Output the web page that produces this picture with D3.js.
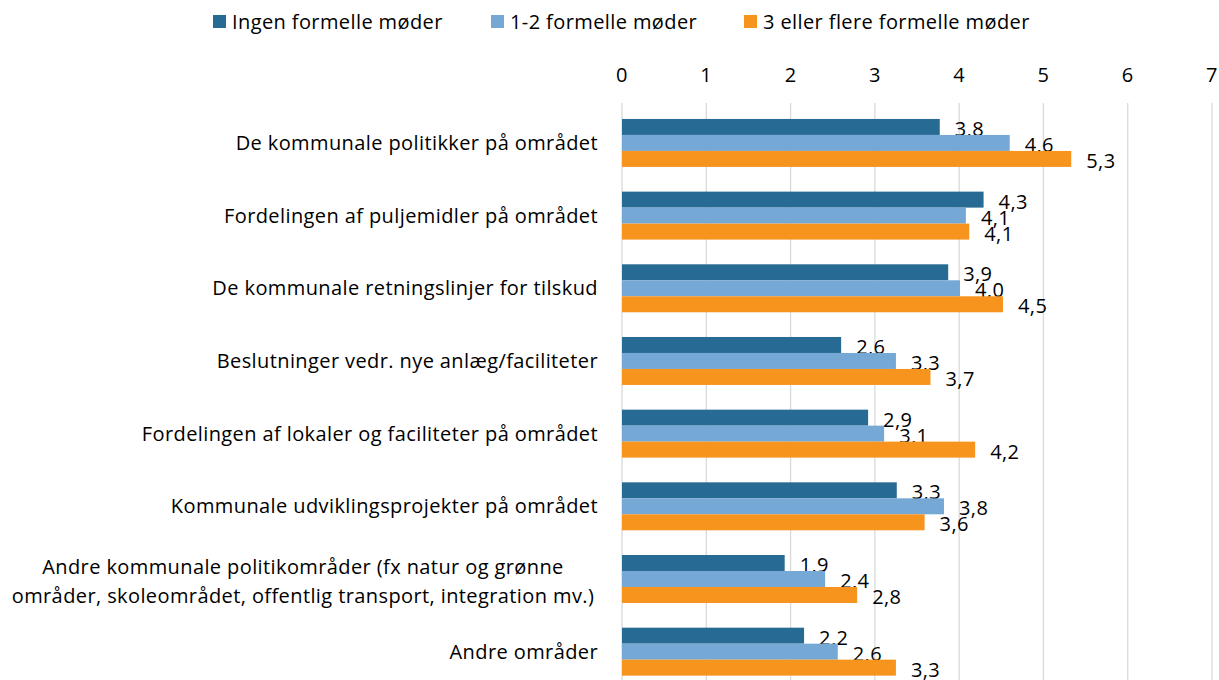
<!DOCTYPE html>
<html>
<head>
<meta charset="utf-8">
<script src="https://cdn.jsdelivr.net/npm/d3@7"></script>
<style>
  body { margin: 0; background: #fff; }
  svg { display: block; font-family: "Open Sans", sans-serif; letter-spacing: 0.4px; }
</style>
</head>
<body>
<div id="chart"></div>
<script>
// 카테고리 (두 줄 라벨은 \n 으로 나눔)
const categories = [
  "De kommunale politikker på området",
  "Fordelingen af puljemidler på området",
  "De kommunale retningslinjer for tilskud",
  "Beslutninger vedr. nye anlæg/faciliteter",
  "Fordelingen af lokaler og faciliteter på området",
  "Kommunale udviklingsprojekter på området",
  "Andre kommunale politikområder (fx natur og grønne\nområder, skoleområdet, offentlig transport, integration mv.)",
  "Andre områder"
];
const seriesNames = ["Ingen formelle møder", "1-2 formelle møder", "3 eller flere formelle møder"];
const seriesColors = ["#276a93", "#76a8d6", "#f7941e"];

// 값
const ingen = [3.77, 4.29, 3.87, 2.60, 2.92, 3.26, 1.93, 2.16];
const enTo  = [4.60, 4.08, 4.01, 3.25, 3.11, 3.82, 2.41, 2.56];
const treFl = [5.33, 4.12, 4.52, 3.66, 4.19, 3.59, 2.79, 3.25];
const xTicks = [0, 1, 2, 3, 4, 5, 6, 7];

const values = [ingen, enTo, treFl];
const W = 1219, H = 680;
const FS = 20;

const svg = d3.select("#chart").append("svg")
  .attr("width", W).attr("height", H);

const x = d3.scaleLinear().domain([0, 7]).range([622, 1212]);
const y = d3.scaleBand().domain(d3.range(categories.length))
  .range([106.6, 688]).paddingInner(0.34).paddingOuter(0.17);
const ySub = d3.scaleBand().domain(d3.range(seriesNames.length))
  .range([0, y.bandwidth()]);

// 세로 격자선
svg.append("g").selectAll("line").data(xTicks).join("line")
  .attr("x1", d => x(d)).attr("x2", d => x(d))
  .attr("y1", 103).attr("y2", H)
  .attr("stroke", "#d9d9d9").attr("stroke-width", 1.3);

// 위쪽 축 숫자
svg.append("g").selectAll("text").data(xTicks).join("text")
  .attr("x", d => x(d)).attr("y", 82)
  .attr("text-anchor", "middle")
  .attr("font-size", FS).attr("fill", "#000")
  .text(d => d);

// 막대 + 값 라벨
const groups = svg.append("g").selectAll("g").data(categories).join("g")
  .attr("transform", (d, i) => `translate(0,${y(i)})`);

groups.each(function(c, i) {
  const g = d3.select(this);
  values.forEach((vals, s) => {
    const v = vals[i];
    g.append("rect")
      .attr("x", x(0)).attr("y", ySub(s))
      .attr("width", x(v) - x(0)).attr("height", ySub.bandwidth())
      .attr("fill", seriesColors[s]);
    g.append("text")
      .attr("x", x(v) + 15).attr("y", ySub(s) + ySub.bandwidth() + 1)
      .attr("font-size", FS).attr("fill", "#000")
      .text(d3.format(".1f")(v).replace(".", ","));
  });
});

// 카테고리 라벨
groups.each(function(c, i) {
  const lines = c.split("\n");
  const g = d3.select(this);
  const cy = y.bandwidth() / 2;
  if (lines.length === 1) {
    g.append("text")
      .attr("x", 598).attr("y", cy).attr("dy", "0.35em")
      .attr("text-anchor", "end")
      .attr("font-size", FS).attr("fill", "#000")
      .text(c);
  } else {
    const t = g.append("text")
      .attr("text-anchor", "middle")
      .attr("font-size", FS).attr("fill", "#000");
    lines.forEach((ln, k) => {
      t.append("tspan")
        .attr("x", 303)
        .attr("y", cy + (k - (lines.length - 1) / 2) * 29 + 3)
        .attr("dy", "0.35em")
        .text(ln);
    });
  }
});

// 범례
const legendX = [213, 491, 744];
const legend = svg.append("g").selectAll("g").data(seriesNames).join("g")
  .attr("transform", (d, i) => `translate(${legendX[i]},22)`);
legend.append("rect")
  .attr("x", 0).attr("y", -7).attr("width", 13).attr("height", 13)
  .attr("fill", (d, i) => seriesColors[i]);
legend.append("text")
  .attr("x", 19).attr("y", 0).attr("dy", "0.35em")
  .attr("font-size", FS).attr("fill", "#000")
  .text(d => d);
</script>
</body>
</html>
